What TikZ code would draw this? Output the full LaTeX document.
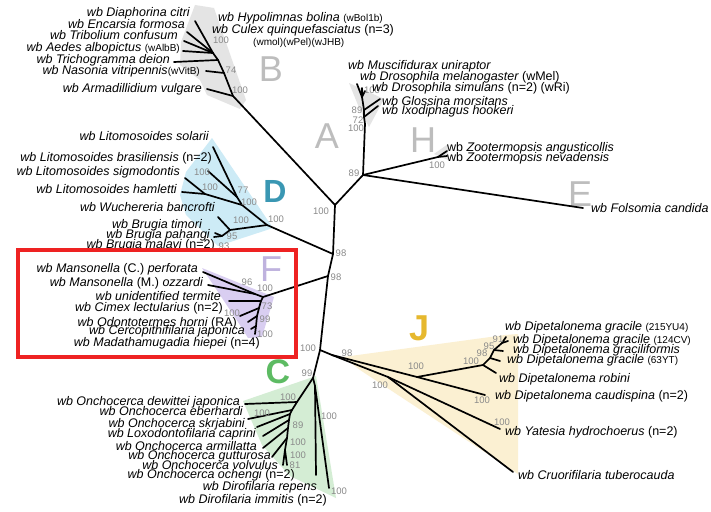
\documentclass[tikz,border=0pt]{standalone}
\usepackage{fontspec}
\setmainfont{Liberation Sans}

\definecolor{bootgray}{HTML}{8A8A8A}
\definecolor{shadegray}{HTML}{E4E4E4}
\definecolor{shadeblue}{HTML}{CDEBF6}
\definecolor{shadepurple}{HTML}{D9CEF1}
\definecolor{shadegreen}{HTML}{D4EDD4}
\definecolor{shadeyellow}{HTML}{FBF0D2}
\definecolor{lettergray}{HTML}{BDBDBD}
\definecolor{letterpurple}{HTML}{BFB2DE}
\definecolor{letterteal}{HTML}{3A97B3}
\definecolor{lettergreen}{HTML}{5DBB63}
\definecolor{lettergold}{HTML}{E6B82E}
\definecolor{boxred}{HTML}{EE2222}

\newcommand{\nrm}[1]{{\upshape #1}}
\newcommand{\strain}[1]{{\upshape\fontsize{10}{10}\selectfont #1}}

\begin{document}
\begin{tikzpicture}[x=1pt,y=-1pt]
  % Define styles
  \tikzstyle{taxon} = [inner sep=0pt, font=\fontsize{12.5}{13}\selectfont\itshape]
  \tikzstyle{boot} = [inner sep=0pt, text=bootgray, font=\fontsize{9.5}{10}\selectfont]
  \tikzstyle{clade} = [inner sep=0pt, font=\fontsize{36}{36}\selectfont]
  \tikzstyle{limb} = [line width=1.7pt, line cap=round, line join=round]

  \useasboundingbox (0,0) rectangle (711,511);
  \fill[white] (0,0) rectangle (711,511);

  % Shaded clades
  \fill[shadegray] (195,5) -- (214,8) -- (246,100) -- (240,109) -- (207,95) -- (200,80) -- (180,65) -- (181,42) -- cycle;
  \fill[shadegray] (349,83) -- (384,99) -- (369,127) -- (360,110) -- cycle;
  \fill[shadegray] (434,154) -- (448,144) -- (448,160) -- cycle;
  \fill[shadeblue] (212,138) -- (273,228) -- (218,246) -- (186,215) -- (180,195) -- (186,172) -- cycle;
  \fill[shadepurple] (202,268) -- (274,297) -- (262,337) -- (248,338) -- (238,322) -- (226,304) -- cycle;
  \fill[shadegreen] (316,376) -- (243,401) -- (262,445) -- (290,476) -- (336,498) -- cycle;
  \fill[shadeyellow] (343,357) -- (505,335) -- (518,334) -- (518,474) -- (360,370) -- cycle;

  % Clade letters
  \node[clade, text=lettergray] (letA) at (327,136) {A};
  \node[clade, text=lettergray] (letB) at (271,69) {B};
  \node[clade, text=lettergray] (letE) at (580,194) {E};
  \node[clade, text=lettergray] (letH) at (423,140) {H};
  \node[clade, text=letterteal, font=\fontsize{32}{32}\selectfont\bfseries] (letD) at (275,191) {D};
  \node[clade, text=letterpurple] (letF) at (271,269) {F};
  \node[clade, text=lettergreen, font=\fontsize{34}{34}\selectfont\bfseries] (letC) at (278,372) {C};
  \node[clade, text=lettergold, font=\fontsize{36}{36}\selectfont\bfseries] (letJ) at (420,328) {J};

  % Internal nodes
  \coordinate (root) at (335,205);
  \coordinate (nb) at (233,96);
  \coordinate (na) at (363,175);
  \coordinate (n98a) at (333,254);
  \coordinate (n98b) at (328,276);
  \coordinate (n100) at (320,350);
  \coordinate (nd) at (267,225);
  \coordinate (nf) at (263,297);
  \coordinate (nc) at (313,378);
  % B
  \coordinate (nb2) at (224,73);
  \coordinate (nb3) at (218,60);
  \coordinate (nb4) at (213,53);
  % A
  \coordinate (na1) at (365,124);
  \coordinate (na2) at (364,117);
  \coordinate (na3) at (364,110);
  \coordinate (na4) at (362,97);
  \coordinate (nh) at (438,157);
  % D
  \coordinate (nl0) at (242,205);
  \coordinate (nl1) at (237,197);
  \coordinate (nl2) at (205,194);
  \coordinate (nw) at (230,230);
  \coordinate (nbr) at (222,236);
  % F
  \coordinate (nfm) at (255,294);
  \coordinate (nf1) at (261,301);
  \coordinate (nf2) at (259,308);
  \coordinate (nf3) at (257,316);
  \coordinate (nf4) at (256,326);
  % C
  \coordinate (ncd) at (315,386);
  \coordinate (no0) at (297,402);
  \coordinate (no1) at (292,410);
  \coordinate (no2) at (290,414);
  \coordinate (no3) at (289,420);
  \coordinate (no4) at (288,428);
  \coordinate (no5) at (287,438);
  \coordinate (no6) at (285,450);
  % J
  \coordinate (nja) at (332,355);
  \coordinate (njb) at (388,377);
  \coordinate (njc) at (417,377);
  \coordinate (ndn) at (483,365);
  \coordinate (nd1) at (490,358);
  \coordinate (nd2) at (494,350);
  \coordinate (nd3) at (502,343);

  % Tips
  \coordinate (tDia) at (195,21);
  \coordinate (tEnc) at (187,32);
  \coordinate (tTrib) at (184,41);
  \coordinate (tAed) at (183,51);
  \coordinate (tTri) at (174,62);
  \coordinate (tNas) at (206,71);
  \coordinate (tArm) at (207,89);
  \coordinate (tMus) at (357,84);
  \coordinate (tMel) at (362,88);
  \coordinate (tSim) at (365,91);
  \coordinate (tGlo) at (380,99);
  \coordinate (tIxo) at (378,106);
  \coordinate (tZa) at (447,151);
  \coordinate (tZn) at (447,156);
  \coordinate (tFol) at (583,208);
  \coordinate (tSol) at (213,147);
  \coordinate (tBra) at (208,171);
  \coordinate (tSig) at (185,178);
  \coordinate (tHam) at (182,192);
  \coordinate (tBan) at (218,217);
  \coordinate (tTim) at (215,233);
  \coordinate (tPah) at (214,237);
  \coordinate (tPer) at (203,272);
  \coordinate (tOzz) at (208,285);
  \coordinate (tTer) at (229,301);
  \coordinate (tCim) at (240,316);
  \coordinate (tOdo) at (248,322);
  \coordinate (tCer) at (251,329);
  \coordinate (tMad) at (255,334);
  \coordinate (tDew) at (245,404);
  \coordinate (tEbe) at (248,419);
  \coordinate (tSkr) at (257,427);
  \coordinate (tCap) at (263,436);
  \coordinate (tArmi) at (263,448);
  \coordinate (tGut) at (272,457);
  \coordinate (tVol) at (283,465);
  \coordinate (tOch) at (287,465);
  \coordinate (tRep) at (316,475);
  \coordinate (tImm) at (329,488);
  \coordinate (tCau) at (485,395);
  \coordinate (tYat) at (500,429);
  \coordinate (tCru) at (513,472);
  \coordinate (tRob) at (496,373);
  \coordinate (tG63) at (500,361);
  \coordinate (tGgf) at (503,351);
  \coordinate (tG124) at (508,341);
  \coordinate (tG215) at (506,337);

  % Branches
  \draw[limb] (root) -- (nb) -- (nb2) -- (nb3) -- (nb4) -- (tDia);
  \draw[limb] (nb) -- (tArm);
  \draw[limb] (nb2) -- (tNas);
  \draw[limb] (nb3) -- (tTri);
  \draw[limb] (nb4) -- (tAed);
  \draw[limb] (nb4) -- (tTrib);
  \draw[limb] (nb4) -- (tEnc);
  \draw[limb] (root) -- (na) -- (na1) -- (na2) -- (na3) -- (na4) -- (tMus);
  \draw[limb] (na4) -- (tMel);
  \draw[limb] (na4) -- (tSim);
  \draw[limb] (na3) -- (tGlo);
  \draw[limb] (na2) -- (tIxo);
  \draw[limb] (na) -- (nh) -- (tZa);
  \draw[limb] (nh) -- (tZn);
  \draw[limb] (na) -- (tFol);
  \draw[limb] (root) -- (n98a) -- (n98b) -- (n100) -- (nc);
  \draw[limb] (n98a) -- (nd) -- (nl0) -- (nl1) -- (tSol);
  \draw[limb] (nl1) -- (tBra);
  \draw[limb] (nl0) -- (nl2) -- (tSig);
  \draw[limb] (nl2) -- (tHam);
  \draw[limb] (nd) -- (nw) -- (tBan);
  \draw[limb] (nw) -- (nbr) -- (tTim);
  \draw[limb] (nbr) -- (tPah);
  \draw[limb] (n98b) -- (nf) -- (nfm) -- (tPer);
  \draw[limb] (nfm) -- (tOzz);
  \draw[limb] (nf) -- (nf1) -- (nf2) -- (nf3) -- (nf4) -- (tMad);
  \draw[limb] (nf1) -- (tTer);
  \draw[limb] (nf2) -- (tCim);
  \draw[limb] (nf3) -- (tOdo);
  \draw[limb] (nf4) -- (tCer);
  \draw[limb] (nc) -- (ncd) -- (tRep);
  \draw[limb] (ncd) -- (tImm);
  \draw[limb] (nc) -- (no0) -- (tDew);
  \draw[limb] (no0) -- (no1) -- (no2) -- (no3) -- (no4) -- (no5) -- (no6) -- (tVol);
  \draw[limb] (no6) -- (tOch);
  \draw[limb] (no1) -- (tEbe);
  \draw[limb] (no2) -- (tSkr);
  \draw[limb] (no3) -- (tCap);
  \draw[limb] (no4) -- (tArmi);
  \draw[limb] (no5) -- (tGut);
  \draw[limb] (n100) -- (nja) -- (njc) -- (tCau);
  \draw[limb] (nja) -- (njb) -- (tYat);
  \draw[limb] (njb) -- (tCru);
  \draw[limb] (njc) -- (ndn) -- (tRob);
  \draw[limb] (ndn) -- (nd1) -- (tG63);
  \draw[limb] (nd1) -- (nd2) -- (tGgf);
  \draw[limb] (nd2) -- (nd3) -- (tG124);
  \draw[limb] (nd3) -- (tG215);

  % Bootstrap values
  \node[boot] (bB1) at (221,40) {100};
  \node[boot] (bB2) at (231,70) {74};
  \node[boot] (bB3) at (240,90) {100};
  \node[boot] (bA1) at (372,90) {100};
  \node[boot] (bA2) at (357,110) {89};
  \node[boot] (bA3) at (358,120) {72};
  \node[boot] (bA4) at (356,128) {100};
  \node[boot] (bA5) at (354,173) {89};
  \node[boot] (bH1) at (437,165) {100};
  \node[boot] (bR1) at (321,211) {100};
  \node[boot] (bR2) at (341,253) {98};
  \node[boot] (bR3) at (336,277) {98};
  \node[boot] (bR4) at (308,348) {100};
  \node[boot] (bR5) at (307,373) {99};
  \node[boot] (bD1) at (202,172) {100};
  \node[boot] (bD2) at (210,187) {100};
  \node[boot] (bD3) at (243,190) {77};
  \node[boot] (bD4) at (249,202) {100};
  \node[boot] (bD5) at (241,220) {100};
  \node[boot] (bD6) at (276,219) {100};
  \node[boot] (bD7) at (232,236) {95};
  \node[boot] (bD8) at (224,246) {93};
  \node[boot] (bF1) at (247,282) {96};
  \node[boot] (bF2) at (265,288) {100};
  \node[boot] (bF3) at (267,306) {73};
  \node[boot] (bF4) at (232,313) {100};
  \node[boot] (bF5) at (265,319) {99};
  \node[boot] (bF6) at (265,334) {100};
  \node[boot] (bC1) at (288,397) {100};
  \node[boot] (bC2) at (262,413) {100};
  \node[boot] (bC3) at (298,425) {89};
  \node[boot] (bC4) at (298,442) {100};
  \node[boot] (bC5) at (298,455) {100};
  \node[boot] (bC6) at (295,465) {81};
  \node[boot] (bC7) at (329,416) {100};
  \node[boot] (bC8) at (339,491) {100};
  \node[boot] (bJ1) at (347,353) {98};
  \node[boot] (bJ2) at (380,385) {100};
  \node[boot] (bJ3) at (416,366) {100};
  \node[boot] (bJ4) at (471,361) {100};
  \node[boot] (bJ5) at (482,353) {98};
  \node[boot] (bJ6) at (489,346) {95};
  \node[boot] (bJ7) at (498,339) {91};
  \node[boot] (bJ8) at (482,400) {100};
  \node[boot] (bJ9) at (502,422) {100};

  % Taxa, clade B
  \node[taxon, anchor=mid east] (lDia) at (190,14) {wb Diaphorina citri};
  \node[taxon, anchor=mid east] (lEnc) at (185,26) {wb Encarsia formosa};
  \node[taxon, anchor=mid east] (lTrib) at (178,37) {wb Tribolium confusum};
  \node[taxon, anchor=mid east] (lAed) at (180,49) {wb Aedes albopictus \strain{(wAlbB)}};
  \node[taxon, anchor=mid east] (lTri) at (170,61) {wb Trichogramma deion};
  \node[taxon, anchor=mid east] (lNas) at (200,72) {wb Nasonia vitripennis\strain{(wVitB)}};
  \node[taxon, anchor=mid east] (lArm) at (202,90) {wb Armadillidium vulgare};
  \node[taxon, anchor=mid west] (lHyp) at (218,19) {wb Hypolimnas bolina \strain{(wBol1b)}};
  \node[taxon, anchor=mid west] (lCul) at (212,31) {wb Culex quinquefasciatus \nrm{(n=3)}};
  \node[taxon, anchor=mid west] (lCulx) at (253,43) {\strain{(wmol)(wPel)(wJHB)}};

  % Taxa, clades A, H, E
  \node[taxon, anchor=mid west] (lMus) at (348,67) {wb Muscifidurax uniraptor};
  \node[taxon, anchor=mid west] (lMel) at (360,78) {wb Drosophila melanogaster \nrm{(wMel)}};
  \node[taxon, anchor=mid west] (lSim) at (372,89) {wb Drosophila simulans \nrm{(n=2) (wRi)}};
  \node[taxon, anchor=mid west] (lGlo) at (382,103) {wb Glossina morsitans};
  \node[taxon, anchor=mid west] (lIxo) at (382,112) {wb Ixodiphagus hookeri};
  \node[taxon, anchor=mid west] (lZa) at (447,149) {\nrm{wb} Zootermopsis angusticollis};
  \node[taxon, anchor=mid west] (lZn) at (447,159) {\nrm{wb} Zootermopsis nevadensis};
  \node[taxon, anchor=mid west] (lFol) at (591,210) {wb Folsomia candida};

  % Taxa, clade D
  \node[taxon, anchor=mid east] (lSol) at (209,138) {wb Litomosoides solarii};
  \node[taxon, anchor=mid east] (lBra) at (212,159) {wb Litomosoides brasiliensis \nrm{(n=2)}};
  \node[taxon, anchor=mid east] (lSig) at (180,173) {wb Litomosoides sigmodontis};
  \node[taxon, anchor=mid east] (lHam) at (177,191) {wb Litomosoides hamletti};
  \node[taxon, anchor=mid east] (lBan) at (215,209) {wb Wuchereria bancrofti};
  \node[taxon, anchor=mid east] (lTim) at (202,226) {wb Brugia timori};
  \node[taxon, anchor=mid east] (lPah) at (210,236) {wb Brugia pahangi};
  \node[taxon, anchor=mid east] (lMal) at (215,246) {wb Brugia malayi \nrm{(n=2)}};

  % Taxa, clade F
  \node[taxon, anchor=mid east] (lPer) at (198,270) {wb Mansonella \nrm{(C.)} perforata};
  \node[taxon, anchor=mid east] (lOzz) at (203,284) {wb Mansonella \nrm{(M.)} ozzardi};
  \node[taxon, anchor=mid east] (lTer) at (221,298) {wb unidentified termite};
  \node[taxon, anchor=mid east] (lCim) at (223,309) {wb Cimex lectularius \nrm{(n=2)}};
  \node[taxon, anchor=mid east] (lOdo) at (237,324) {wb Odontotermes horni \nrm{(RA)}};
  \node[taxon, anchor=mid east] (lCer) at (245,332) {wb Cercopithifilaria japonica};
  \node[taxon, anchor=mid east] (lMad) at (260,344) {wb Madathamugadia hiepei \nrm{(n=4)}};

  % Taxa, clade C
  \node[taxon, anchor=mid east] (lDew) at (240,403) {wb Onchocerca dewittei japonica};
  \node[taxon, anchor=mid east] (lEbe) at (243,413) {wb Onchocerca eberhardi};
  \node[taxon, anchor=mid east] (lSkr) at (245,425) {wb Onchocerca skrjabini};
  \node[taxon, anchor=mid east] (lCap) at (256,435) {wb Loxodontofilaria caprini};
  \node[taxon, anchor=mid east] (lArmi) at (257,448) {wb Onchocerca armillatta};
  \node[taxon, anchor=mid east] (lGut) at (271,457) {wb Onchocerca gutturosa};
  \node[taxon, anchor=mid east] (lVol) at (278,467) {wb Onchocerca volvulus};
  \node[taxon, anchor=mid east] (lOch) at (295,476) {wb Onchocerca ochengi \nrm{(n=2)}};
  \node[taxon, anchor=mid east] (lRep) at (317,488) {wb Dirofilaria repens};
  \node[taxon, anchor=mid east] (lImm) at (327,501) {wb Dirofilaria immitis \nrm{(n=2)}};

  % Taxa, clade J
  \node[taxon, anchor=mid west] (lG215) at (505,328) {wb Dipetalonema gracile \strain{(215YU4)}};
  \node[taxon, anchor=mid west] (lG124) at (513,341) {wb Dipetalonema gracile \strain{(124CV)}};
  \node[taxon, anchor=mid west] (lGgf) at (513,351) {wb Dipetalonema graciliformis};
  \node[taxon, anchor=mid west] (lG63) at (507,361) {wb Dipetalonema gracile \strain{(63YT)}};
  \node[taxon, anchor=mid west] (lRob) at (499,380) {wb Dipetalonema robini};
  \node[taxon, anchor=mid west] (lCau) at (495,397) {wb Dipetalonema caudispina \nrm{(n=2)}};
  \node[taxon, anchor=mid west] (lYat) at (505,433) {wb Yatesia hydrochoerus \nrm{(n=2)}};
  \node[taxon, anchor=mid west] (lCru) at (518,477) {wb Cruorifilaria tuberocauda};

  % Highlight box
  \draw[boxred, line width=3.5pt] (18,250) rectangle (296,357);
\end{tikzpicture}
\end{document}
